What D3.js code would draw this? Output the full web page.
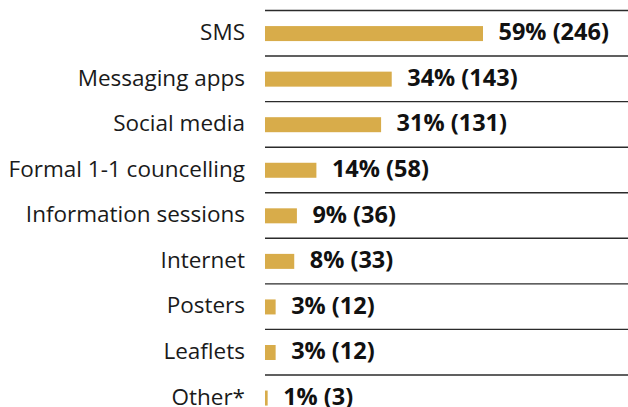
<!DOCTYPE html>
<html>
<head>
<meta charset="utf-8">
<script src="https://cdn.jsdelivr.net/npm/d3@7/dist/d3.min.js"></script>
<style>
  html, body { margin: 0; padding: 0; background: #fff; }
  svg { display: block; }
</style>
</head>
<body>
<div id="chart"></div>
<script>
// Communication channels: share of respondents and count
const categories = ["SMS", "Messaging apps", "Social media", "Formal 1-1 councelling",
  "Information sessions", "Internet", "Posters", "Leaflets", "Other*"];
const percents = [59, 34, 31, 14, 9, 8, 3, 3, 1];
const counts = [246, 143, 131, 58, 36, 33, 12, 12, 3];

const W = 628, H = 407;
const rows = categories.map((c, i) => ({ cat: c, pct: percents[i], n: counts[i] }));

const svg = d3.select("#chart").append("svg")
  .attr("width", W).attr("height", H);

const rowH = 45.56;
const y = d3.scaleBand()
  .domain(categories)
  .range([10.5, 10.5 + rowH * categories.length])
  .paddingInner(0).paddingOuter(0);

const x = d3.scaleLinear().domain([0, 246]).range([265, 483]);

const fontFam = "'Open Sans', sans-serif";

// separator rule above each row
svg.append("g").selectAll("line").data(rows).join("line")
  .attr("x1", x(0)).attr("x2", W)
  .attr("y1", d => y(d.cat)).attr("y2", d => y(d.cat))
  .attr("stroke", "#2b2b2b").attr("stroke-width", 1.4);

const barH = 15;
svg.append("g").selectAll("rect").data(rows).join("rect")
  .attr("x", x(0))
  .attr("y", d => y(d.cat) + y.bandwidth() / 2 - barH / 2 + 0.3)
  .attr("width", d => x(d.n) - x(0))
  .attr("height", barH)
  .attr("fill", "#D8AC4A");

// category names
svg.append("g").selectAll("text").data(rows).join("text")
  .attr("x", 245)
  .attr("y", d => y(d.cat) + y.bandwidth() / 2)
  .attr("dy", "0.3em")
  .attr("text-anchor", "end")
  .attr("font-family", fontFam)
  .attr("font-size", 22.5)
  .attr("fill", "#1a1a1a")
  .text(d => d.cat);

// value labels
svg.append("g").selectAll("text").data(rows).join("text")
  .attr("x", d => x(d.n) + 15.5)
  .attr("y", d => y(d.cat) + y.bandwidth() / 2)
  .attr("dy", "0.3em")
  .attr("font-family", fontFam)
  .attr("font-size", 23.5)
  .attr("font-weight", "bold")
  .attr("fill", "#111")
  .text(d => `${d.pct}% (${d.n})`);
</script>
</body>
</html>
